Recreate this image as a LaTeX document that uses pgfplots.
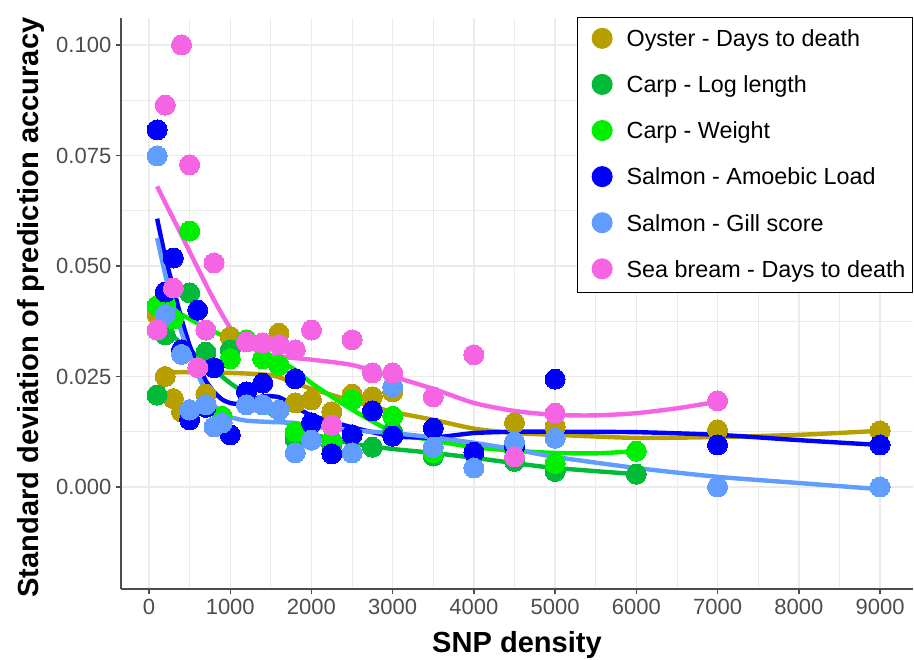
\documentclass[border=0pt]{standalone}
\usepackage{fontspec}
\setmainfont{Liberation Sans}
\usepackage{pgfplots}
\pgfplotsset{compat=1.18}
\definecolor{cOy}{HTML}{B79F00}
\definecolor{cCL}{HTML}{00BA38}
\definecolor{cCW}{HTML}{00EE00}
\definecolor{cSA}{HTML}{0000FF}
\definecolor{cSG}{HTML}{619CFF}
\definecolor{cSB}{HTML}{F564E3}
\definecolor{gridc}{HTML}{EBEBEB}
\definecolor{axc}{HTML}{4D4D4D}
\pgfplotsset{
  pts/.style={only marks, mark=*, mark size=7.5pt, mark options={fill=#1, draw=#1, line width=0pt},
    legend image code/.code={\fill[#1] (0pt,1.8pt) circle (7.5pt); \path (-12.75pt,0pt) (7.5pt,0pt);}},
  fit/.style={no marks, #1, line width=3.3pt, forget plot, smooth, tension=0.4},
}
\begin{document}
\begin{tikzpicture}
\begin{axis}[
  scale only axis, width=594pt, height=428.25pt,
  xmin=-345, xmax=9406, ymin=-0.02308, ymax=0.1061,
  axis x line=bottom, axis y line=left,
  axis line style={-, axc, line width=1.1pt},
  tick align=outside, major tick length=3.75pt, minor tick length=0pt,
  tick style={axc, line width=1.1pt},
  xtick={0,1000,2000,3000,4000,5000,6000,7000,8000,9000},
  xticklabels={0,1000,2000,3000,4000,5000,6000,7000,8000,9000},
  ytick={0,0.025,0.05,0.075,0.1},
  yticklabels={0.000,0.025,0.050,0.075,0.100},
  minor x tick num=1, minor y tick num=1,
  scaled ticks=false,
  grid=both,
  major grid style={gridc, line width=1.1pt},
  minor grid style={gridc, line width=0.55pt},
  tick label style={font=\fontsize{16.5}{19}\selectfont, color=axc},
  xlabel={SNP density},
  ylabel={Standard deviation of prediction accuracy},
  label style={font=\bfseries\fontsize{21.8}{26}\selectfont},
  xlabel style={at={([yshift=-47.25pt]axis description cs:0.5,0)}, anchor=base},
  ylabel style={at={([xshift=-62pt]axis description cs:0,0.493)}, anchor=base},
  legend style={at={([yshift=1pt]rel axis cs:1,1)}, anchor=north east, draw=black, line width=0.75pt, fill=white,
    font=\fontsize{17.5}{21}\selectfont, inner xsep=5.25pt, inner ysep=8pt, row sep=16.8pt, column sep=10.5pt,
    nodes={inner sep=0pt, text height=12.5pt, text depth=3.7pt}},
  legend cell align=left,
]
% ---- points ----
\addplot[pts=cOy] coordinates {(100,0.039)(200,0.025)(300,0.020)(400,0.017)(500,0.0175)(700,0.021)(1000,0.034)(1600,0.0348)(1800,0.019)(2000,0.0197)(2250,0.017)(2500,0.021)(2750,0.0204)(3000,0.0215)(4500,0.0145)(5000,0.0136)(7000,0.0129)(9000,0.0127)};
\addlegendentry{Oyster - Days to death}
\addplot[pts=cCL] coordinates {(100,0.0208)(200,0.0344)(500,0.0439)(700,0.0305)(1000,0.031)(1800,0.0108)(2250,0.0095)(2750,0.009)(3000,0.0125)(3500,0.007)(4500,0.0058)(5000,0.0035)(6000,0.0029)};
\addlegendentry{Carp - Log length}
\addplot[pts=cCW] coordinates {(100,0.041)(200,0.0416)(300,0.038)(500,0.0579)(900,0.016)(1000,0.029)(1200,0.0333)(1400,0.029)(1600,0.0275)(1800,0.0125)(2250,0.0105)(2500,0.0197)(3000,0.016)(3500,0.0077)(4500,0.0084)(5000,0.0053)(6000,0.0081)};
\addlegendentry{Carp - Weight}
\addplot[pts=cSA] coordinates {(100,0.0808)(200,0.0441)(300,0.0518)(400,0.031)(500,0.0152)(600,0.040)(700,0.018)(800,0.027)(1000,0.0118)(1200,0.0215)(1400,0.0235)(1800,0.0245)(2000,0.0145)(2250,0.0075)(2500,0.0118)(2750,0.0172)(3000,0.0115)(3500,0.0133)(4000,0.0079)(4500,0.009)(5000,0.0244)(7000,0.0095)(9000,0.0095)};
\addlegendentry{Salmon - Amoebic Load}
\addplot[pts=cSG] coordinates {(100,0.0749)(200,0.039)(400,0.030)(500,0.0174)(700,0.0186)(800,0.0136)(900,0.0145)(1200,0.0186)(1400,0.0186)(1600,0.0174)(1800,0.0077)(2000,0.0106)(2500,0.0077)(3000,0.0226)(3500,0.009)(4000,0.0043)(4500,0.0102)(5000,0.011)(7000,0)(9000,0)};
\addlegendentry{Salmon - Gill score}
\addplot[pts=cSB] coordinates {(100,0.0355)(200,0.0864)(300,0.045)(400,0.100)(500,0.0729)(600,0.027)(700,0.0355)(800,0.0507)(1200,0.0328)(1400,0.0326)(1600,0.0322)(1800,0.031)(2000,0.0355)(2250,0.014)(2500,0.0333)(2750,0.0258)(3000,0.0258)(3500,0.0204)(4000,0.0299)(4500,0.0068)(5000,0.0167)(7000,0.0195)};
\addlegendentry{Sea bream - Days to death}
% ---- smooth fits ----
\addplot[fit=cOy] coordinates {(100,0.0258)(500,0.026)(1000,0.0258)(1500,0.0253)(1800,0.0235)(2000,0.0222)(2500,0.0195)(3000,0.017)(3500,0.0152)(4000,0.0132)(4500,0.0122)(5000,0.0118)(6000,0.0111)(7000,0.0113)(8000,0.0118)(9000,0.0127)};
\addplot[fit=cCL] coordinates {(100,0.0375)(300,0.034)(500,0.031)(700,0.028)(1000,0.0235)(1200,0.021)(1500,0.0165)(1800,0.0135)(2000,0.012)(2500,0.0098)(3000,0.0086)(3500,0.0077)(4000,0.0066)(4500,0.0054)(5000,0.0043)(6000,0.0029)};
\addplot[fit=cCW] coordinates {(100,0.042)(300,0.040)(500,0.038)(700,0.036)(1000,0.0335)(1200,0.032)(1500,0.0295)(1800,0.0265)(2000,0.0235)(2500,0.0175)(3000,0.0125)(3500,0.0105)(4000,0.009)(4500,0.0082)(5000,0.0077)(5500,0.0076)(6000,0.0081)};
\addplot[fit=cSA] coordinates {(100,0.0607)(200,0.052)(300,0.045)(400,0.038)(500,0.032)(600,0.028)(700,0.024)(800,0.0215)(900,0.0198)(1000,0.019)(1100,0.0188)(1200,0.0192)(1400,0.0205)(1600,0.0203)(1800,0.0182)(2000,0.0162)(2500,0.0135)(3000,0.0115)(3500,0.0112)(4000,0.0122)(4500,0.0125)(5000,0.0125)(6000,0.0124)(7000,0.0118)(8000,0.0106)(9000,0.0095)};
\addplot[fit=cSG] coordinates {(100,0.0563)(200,0.048)(300,0.041)(400,0.035)(500,0.030)(600,0.0255)(700,0.0215)(800,0.0185)(900,0.0168)(1000,0.0158)(1200,0.015)(1500,0.0147)(1800,0.0145)(2000,0.0137)(2500,0.0128)(3000,0.0122)(3500,0.0112)(4000,0.0100)(4500,0.0085)(5000,0.0068)(6000,0.0043)(7000,0.0023)(8000,0.0009)(9000,-0.0005)};
\addplot[fit=cSB] coordinates {(100,0.068)(200,0.0643)(400,0.057)(600,0.0495)(800,0.0423)(1000,0.036)(1200,0.0322)(1500,0.0298)(2000,0.0288)(2500,0.0276)(3000,0.025)(3500,0.0222)(4000,0.019)(4500,0.0172)(5000,0.0163)(5500,0.0162)(6000,0.0167)(6500,0.0178)(7000,0.0193)};
\end{axis}
\pgfresetboundingbox
\path[use as bounding box] ([shift={(-90.75pt,-52.5pt)}]current axis.south west) rectangle ([shift={(0.75pt,13.5pt)}]current axis.north east);
\end{tikzpicture}
\end{document}
